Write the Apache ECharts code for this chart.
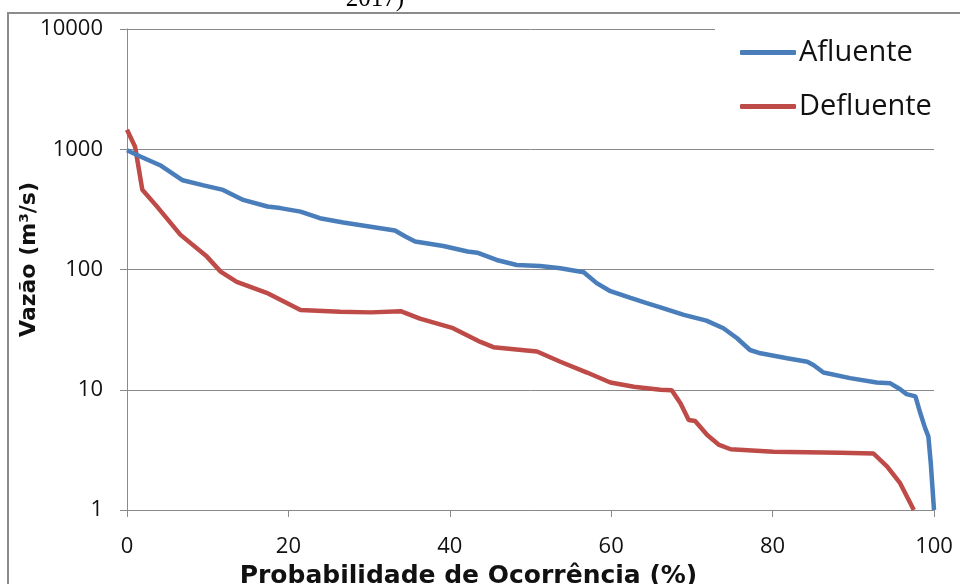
<!DOCTYPE html>
<html>
<head>
<meta charset="utf-8">
<script src="https://cdn.jsdelivr.net/npm/echarts@6/dist/echarts.min.js"></script>
<style>
  html, body { margin: 0; padding: 0; background: #fff; }
  #chart { width: 960px; height: 584px; }
</style>
</head>
<body>
<div id="chart"></div>
<script>
// Curva de permanência: probabilidade de ocorrência (%) x vazão (m³/s)
const afluenteProb = [0, 1.65, 4.1, 6.9, 9.5, 11.9, 14.4, 17.4, 19.0, 21.5, 23.9, 26.8, 30.2, 33.2, 34.5, 35.7, 39.2, 42.2, 43.4, 45.8, 48.3, 51.2, 53.7, 56.6, 58.2, 59.9, 62.4, 64.4, 66.1, 69.0, 71.8, 73.9, 75.6, 77.2, 78.5, 81.8, 84.3, 85.1, 86.3, 89.6, 92.9, 94.6, 95.8, 96.6, 97.7, 98.3, 98.9, 99.3, 99.6, 100];
const afluenteVazao = [980, 870, 737, 552, 501, 459, 379, 334, 324, 303, 267, 246, 227, 211, 188, 171, 157, 141, 138, 120, 109, 107, 102.5, 95, 77, 66, 58, 52.5, 48.5, 41.9, 37.6, 32.5, 26.8, 21.4, 20.1, 18.3, 17.1, 16, 13.9, 12.5, 11.5, 11.3, 10.1, 9.2, 8.8, 6.4, 4.8, 4.1, 2.45, 1];

const defluenteProb = [0, 1.0, 1.9, 3.7, 6.6, 9.9, 11.6, 13.6, 17.3, 21.5, 26.4, 30.2, 33.9, 36.3, 40.4, 43.8, 45.4, 50.8, 53.7, 57.0, 59.9, 62.8, 66.1, 67.5, 68.6, 69.6, 70.4, 71.9, 73.3, 74.8, 80.1, 88.4, 92.5, 94.2, 95.8, 97.5];
const defluenteVazao = [1450, 1050, 460, 335, 195, 128, 96, 79, 64, 46, 44.5, 44, 45, 39, 32.5, 25, 22.6, 20.8, 17.1, 13.9, 11.5, 10.6, 10.0, 9.9, 7.7, 5.6, 5.5, 4.2, 3.5, 3.2, 3.05, 3.0, 2.95, 2.29, 1.67, 1.0];

const seriesNames = ['Afluente', 'Defluente'];
const seriesColors = ['#4a7ebb', '#be4b48'];
const xTicks = { min: 0, max: 100, interval: 20 };
const yTicks = { min: 1, max: 10000 };

const pairs = (xs, ys) => xs.map((x, i) => [x, ys[i]]);

const axisGray = '#8a8a8a';
const textFont = '"Open Sans", "DejaVu Sans", sans-serif';
const titleFont = '"DejaVu Sans", sans-serif';

const chart = echarts.init(document.getElementById('chart'), null, { renderer: 'canvas' });

chart.setOption({
  animation: false,
  backgroundColor: '#fff',
  grid: { left: 127, right: 26, top: 29, bottom: 74, containLabel: false, outerBoundsMode: 'none' },
  graphic: [
    {
      type: 'rect',
      shape: { x: 8, y: 13, width: 1000, height: 1000 },
      style: { fill: 'none', stroke: '#8c8c8c', lineWidth: 2 },
      z: -1
    },
    {
      type: 'text',
      x: 375,
      y: -13,
      style: {
        text: '2017)',
        font: '25px "Liberation Serif", serif',
        fill: '#000',
        align: 'center',
        verticalAlign: 'top'
      }
    }
  ],
  legend: {
    orient: 'vertical',
    left: 715,
    top: 18,
    padding: [20, 12, 10, 25],
    backgroundColor: '#fff',
    itemWidth: 56,
    itemHeight: 5,
    itemGap: 25,
    icon: 'roundRect',
    textStyle: { fontFamily: textFont, fontSize: 29, color: '#111', padding: [0, 0, 0, -2] },
    data: seriesNames
  },
  xAxis: {
    type: 'value',
    min: xTicks.min,
    max: xTicks.max,
    interval: xTicks.interval,
    name: 'Probabilidade de Ocorrência (%)',
    nameLocation: 'middle',
    nameGap: 54,
    nameMoveOverlap: false,
    nameTextStyle: {
      fontFamily: titleFont, fontSize: 25, fontWeight: 'bold', color: '#111',
      padding: [0, 124, 0, 0]
    },
    axisLine: { show: true, lineStyle: { color: axisGray, width: 1 } },
    axisTick: { show: true, length: 7, lineStyle: { color: axisGray } },
    axisLabel: { fontFamily: textFont, fontSize: 22, color: '#111', margin: 26 },
    splitLine: { show: false }
  },
  yAxis: {
    type: 'log',
    logBase: 10,
    min: yTicks.min,
    max: yTicks.max,
    name: 'Vazão (m³/s)',
    nameLocation: 'middle',
    nameGap: 87,
    nameRotate: 90,
    nameMoveOverlap: false,
    nameTextStyle: {
      fontFamily: titleFont, fontSize: 22, fontWeight: 'bold', color: '#111',
      padding: [0, 0, 0, 20]
    },
    axisLine: { show: true, lineStyle: { color: axisGray, width: 1 } },
    axisTick: { show: true, length: 7, lineStyle: { color: axisGray } },
    axisLabel: {
      fontFamily: textFont, fontSize: 22, color: '#111', margin: 24,
      formatter: (v) => String(Math.round(v))
    },
    splitLine: { show: true, lineStyle: { color: axisGray, width: 1 } }
  },
  series: [
    {
      name: seriesNames[0],
      type: 'line',
      data: pairs(afluenteProb, afluenteVazao),
      showSymbol: false,
      symbol: 'none',
      lineStyle: { color: seriesColors[0], width: 4.5 },
      itemStyle: { color: seriesColors[0] },
      clip: false,
      z: 3
    },
    {
      name: seriesNames[1],
      type: 'line',
      data: pairs(defluenteProb, defluenteVazao),
      showSymbol: false,
      symbol: 'none',
      lineStyle: { color: seriesColors[1], width: 4.5 },
      itemStyle: { color: seriesColors[1] },
      clip: false,
      z: 2
    }
  ]
});
</script>
</body>
</html>
